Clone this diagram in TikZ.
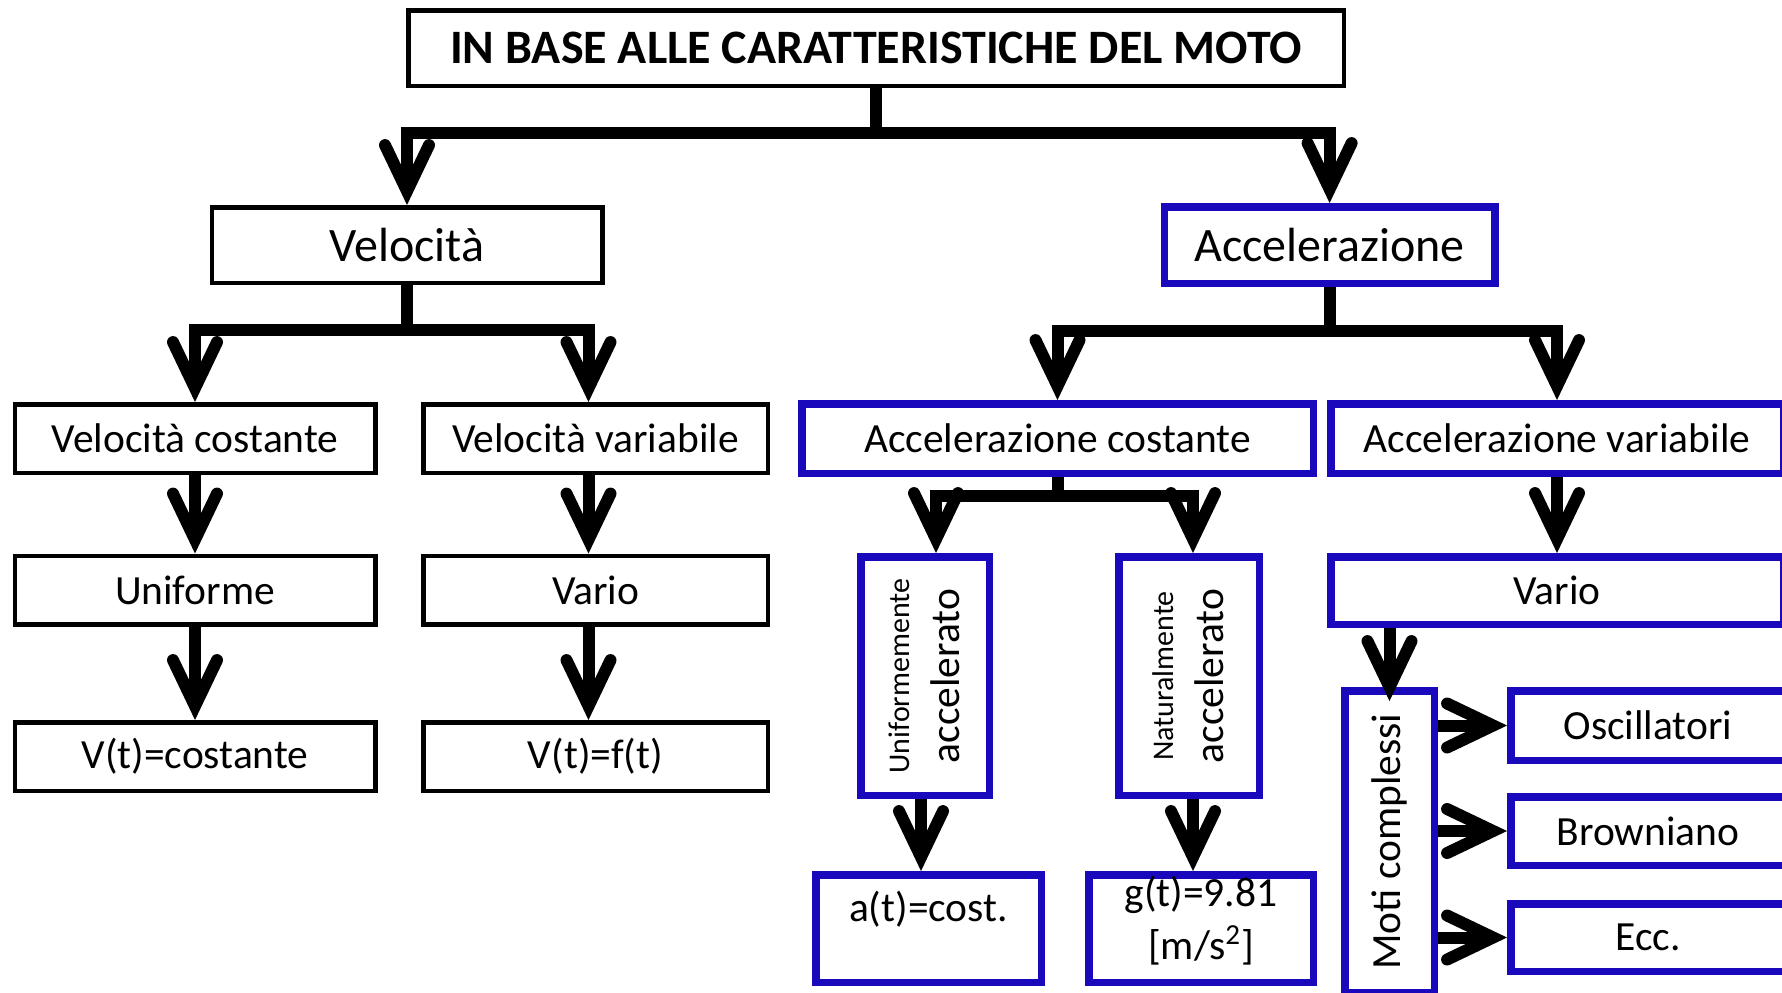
\documentclass[tikz,border=0pt]{standalone}
\usepackage{fontspec}
\setmainfont{Carlito}
\usetikzlibrary{arrows.meta}

\definecolor{boxblue}{RGB}{26,8,188}
\newcommand{\bigsize}{\fontsize{24}{28}\selectfont}
\newcommand{\midsize}{\fontsize{20.75}{22.5}\selectfont}
\newcommand{\smallsize}{\fontsize{15}{18}\selectfont}

\tikzset{
  box/.style={draw=black, line width=2.25pt, inner sep=0pt, align=center, font=\midsize},
  bluebox/.style={box, draw=boxblue, line width=3.75pt},
  conn/.style={line width=6pt, >={Straight Barb[length=23pt,width=22pt,line cap=round,line join=miter]}}
}

\begin{document}
\begin{tikzpicture}[x=0.5pt,y=-0.5pt]
\path[use as bounding box,clip] (0,0) rectangle (1782,992);

% primo livello
\node[box,font=\bigsize\bfseries,minimum width=467.75pt,minimum height=37.75pt] (moto) at (876,48) {IN BASE ALLE CARATTERISTICHE DEL MOTO};
\node[box,font=\bigsize,minimum width=195.25pt,minimum height=37.75pt] (vel) at (407,245) {Velocità};
\node[bluebox,font=\bigsize,minimum width=165.25pt,minimum height=38.25pt] (acc) at (1329.6,245) {Accelerazione};

% ramo velocita
\node[box,minimum width=180.25pt,minimum height=34.25pt] (velcost) at (195,438.5) {Velocità costante};
\node[box,minimum width=172.25pt,minimum height=34.25pt] (velvar) at (595.5,438.5) {Velocità variabile};
\node[box,minimum width=180.25pt,minimum height=34.25pt] (unif) at (195,590) {Uniforme};
\node[box,minimum width=172.25pt,minimum height=34.25pt] (vario) at (595.5,590) {Vario};
\node[box,minimum width=180.25pt,minimum height=34.25pt] (vcost) at (195,756.5) {V(t)=costante};
\node[box,minimum width=172.25pt,minimum height=34.25pt] (vft) at (595.5,756.5) {V(t)=f(t)};

% ramo accelerazione
\node[bluebox,minimum width=255.75pt,minimum height=34.75pt] (acccost) at (1057.5,438.5) {Accelerazione costante};
\node[bluebox,minimum width=226.25pt,minimum height=34.75pt] (accvar) at (1557,438.5) {Accelerazione variabile};
\node[bluebox,minimum width=64.25pt,minimum height=119.25pt] (unifacc) at (925,676)
  {\rotatebox{90}{\begin{tabular}{@{}c@{}}\smallsize Uniformemente\\[2.5pt] accelerato\end{tabular}}};
\node[bluebox,minimum width=70.25pt,minimum height=119.25pt] (natacc) at (1189,676)
  {\rotatebox{90}{\begin{tabular}{@{}c@{}}\smallsize Naturalmente\\[2.5pt] accelerato\end{tabular}}};
\node[bluebox,minimum width=112.75pt,minimum height=53.75pt] (acost) at (928.5,928.5) {a(t)=cost.\\ \mbox{}};
\node[bluebox,font=\fontsize{20.75}{26.5}\selectfont,text depth=11pt,minimum width=112.25pt,minimum height=53.75pt] (gval) at (1201,928.5) {g(t)=9.81\\{}[m/s\textsuperscript{2}]};
\node[bluebox,minimum width=226.25pt,minimum height=33.75pt] (vario2) at (1557,590.5) {Vario};
\node[bluebox,minimum width=44.75pt,minimum height=150.75pt] (moti) at (1389.5,841.5) {\rotatebox{90}{Moti complessi}};
\node[bluebox,minimum width=137.25pt,minimum height=34.75pt] (osc) at (1648,725.5) {Oscillatori};
\node[bluebox,minimum width=137.25pt,minimum height=34.25pt] (brown) at (1648,831) {Browniano};
\node[bluebox,minimum width=137.25pt,minimum height=33.75pt] (ecc) at (1648,937.5) {Ecc.};

% collegamenti
\draw[conn,->] (moto.south) -- ++(0,45) -| (vel.north);
\draw[conn,->] (moto.south) -- ++(0,45) -| (acc.north);
\draw[conn,->] (vel.south) -- ++(0,45) -| (velcost.north);
\draw[conn,->] (vel.south) -- ++(0,45) -| ([xshift=-3.5pt]velvar.north);
\draw[conn,->] (velcost) -- (unif);
\draw[conn,->] (unif) -- (vcost);
\draw[conn,->] ([xshift=-3.5pt]velvar.south) -- ([xshift=-3.5pt]vario.north);
\draw[conn,->] ([xshift=-3.5pt]vario.south) -- ([xshift=-3.5pt]vft.north);
\draw[conn,->] (acc.south) -- ++(0,44) -| (acccost.north);
\draw[conn,->] (acc.south) -- ++(0,44) -| (accvar.north);
\draw[conn,->] (acccost.south) -- ++(0,19) -| ([xshift=5.5pt]unifacc.north);
\draw[conn,->] (acccost.south) -- ++(0,19) -| ([xshift=2pt]natacc.north);
\draw[conn,->] ([xshift=-2pt]unifacc.south) -- ([xshift=-2pt]unifacc.south |- acost.north);
\draw[conn,->] ([xshift=2pt]natacc.south) -- ([xshift=2pt]natacc.south |- gval.north);
\draw[conn,->] (accvar) -- (vario2);
\draw[conn,->] (moti.north |- vario2.south) -- ([yshift=-7pt]moti.north);
\draw[conn,->] (moti.east |- osc.west) -- (osc.west);
\draw[conn,->] (moti.east |- brown.west) -- (brown.west);
\draw[conn,->] (moti.east |- ecc.west) -- (ecc.west);

\end{tikzpicture}
\end{document}
